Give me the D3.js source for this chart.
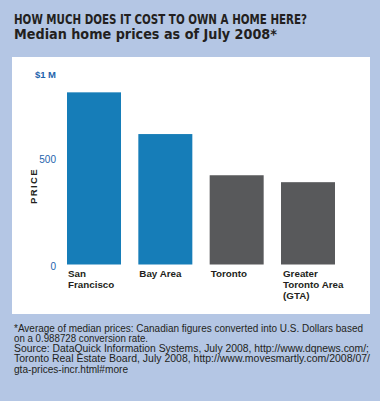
<!DOCTYPE html>
<html><head><meta charset="utf-8">
<script src="https://cdn.jsdelivr.net/npm/d3@7"></script>
<style>html,body{margin:0;padding:0;background:#b4c6e4;}svg{display:block;}</style>
</head><body>
<script>
// Data
const categories = ["San Francisco", "Bay Area", "Toronto", "Greater Toronto Area (GTA)"];
const categoryLines = [["San", "Francisco"], ["Bay Area"], ["Toronto"], ["Greater", "Toronto Area", "(GTA)"]];
const prices = [896, 650, 425, 392]; // thousands of USD
const barColors = ["#167db8", "#167db8", "#58595b", "#58595b"];
const tickValues = [0, 500, 1000];
const tickLabels = ["0", "500", "$1 M"];
const titleLines = ["HOW MUCH DOES IT COST TO OWN A HOME HERE?", "Median home prices as of July 2008*"];
const footLines = [
  "*Average of median prices: Canadian figures converted into U.S. Dollars based",
  "on a 0.988728 conversion rate.",
  "Source: DataQuick Information Systems, July 2008, http://www.dqnews.com/;",
  "Toronto Real Estate Board, July 2008, http://www.movesmartly.com/2008/07/",
  "gta-prices-incr.html#more"
];

const W = 380, H = 401;
const svg = d3.select("body").append("svg").attr("width", W).attr("height", H);
svg.append("rect").attr("width", W).attr("height", H).attr("fill", "#b4c6e4");

// Title
const titleFont = "'DejaVu Sans Condensed','Liberation Sans Narrow','Liberation Sans',Arial,sans-serif";
const tl = [{y: 24, len: 293, size: 13.8}, {y: 39.3, len: 263, size: 13.8}];
svg.selectAll("text.title").data(titleLines).join("text")
  .attr("class", "title")
  .attr("x", 14).attr("y", (d, i) => tl[i].y)
  .attr("textLength", (d, i) => tl[i].len).attr("lengthAdjust", "spacingAndGlyphs")
  .attr("font-family", titleFont).attr("font-weight", "bold")
  .attr("font-size", (d, i) => tl[i].size).attr("fill", "#231f20")
  .text(d => d);

// White panel
svg.append("rect").attr("x", 12).attr("y", 57).attr("width", 358).attr("height", 257).attr("fill", "#ffffff");

// Scales
const x = d3.scaleBand().domain(categories).range([67, 335]).paddingInner(0.243).paddingOuter(0);
const y = d3.scaleLinear().domain(tickValues).range([264.5, 159.5, 74.7]);

// Bars
svg.selectAll("rect.bar").data(prices).join("rect")
  .attr("class", "bar")
  .attr("x", (d, i) => x(categories[i]))
  .attr("width", x.bandwidth())
  .attr("y", d => y(d))
  .attr("height", d => y(0) - y(d))
  .attr("fill", (d, i) => barColors[i]);

// Y axis labels
const sans = "'Liberation Sans',Arial,Helvetica,sans-serif";
svg.selectAll("text.tick").data(tickValues).join("text")
  .attr("class", "tick")
  .attr("x", 56).attr("y", d => y(d) + (d === 0 ? 1.5 : 0))
  .attr("dy", "0.35em")
  .attr("text-anchor", "end")
  .attr("font-family", sans)
  .attr("font-size", (d, i) => i === 2 ? 9.5 : 10)
  .attr("font-weight", (d, i) => i === 2 ? "bold" : "normal")
  .attr("fill", "#1e63ac")
  .text((d, i) => tickLabels[i]);

// Axis title
svg.append("text")
  .attr("transform", "translate(37.3,186) rotate(-90)")
  .attr("text-anchor", "middle")
  .attr("font-family", sans).attr("font-weight", "bold").attr("font-size", 9.5)
  .attr("letter-spacing", 1.4)
  .attr("fill", "#231f20")
  .text("PRICE");

// Category labels
const cat = svg.selectAll("text.cat").data(categories).join("text")
  .attr("class", "cat")
  .attr("font-family", sans).attr("font-weight", "bold").attr("font-size", 9.8)
  .attr("fill", "#231f20");
cat.selectAll("tspan").data((d, i) => categoryLines[i].map(t => ({t, x: x(d) + (i === 3 ? 2 : 1)}))).join("tspan")
  .attr("x", d => d.x)
  .attr("y", (d, j) => 277 + j * 11)
  .text(d => d.t);

// Footnote
const fl = [349, 134, 355, 356, 114];
svg.selectAll("text.foot").data(footLines).join("text")
  .attr("class", "foot")
  .attr("x", 14).attr("y", (d, i) => 331.5 + i * 10.25)
  .attr("textLength", (d, i) => fl[i]).attr("lengthAdjust", "spacingAndGlyphs")
  .attr("font-family", "'Liberation Sans',Arial,sans-serif")
  .attr("font-size", 10).attr("fill", "#231f20")
  .text(d => d);
</script>
</body></html>
